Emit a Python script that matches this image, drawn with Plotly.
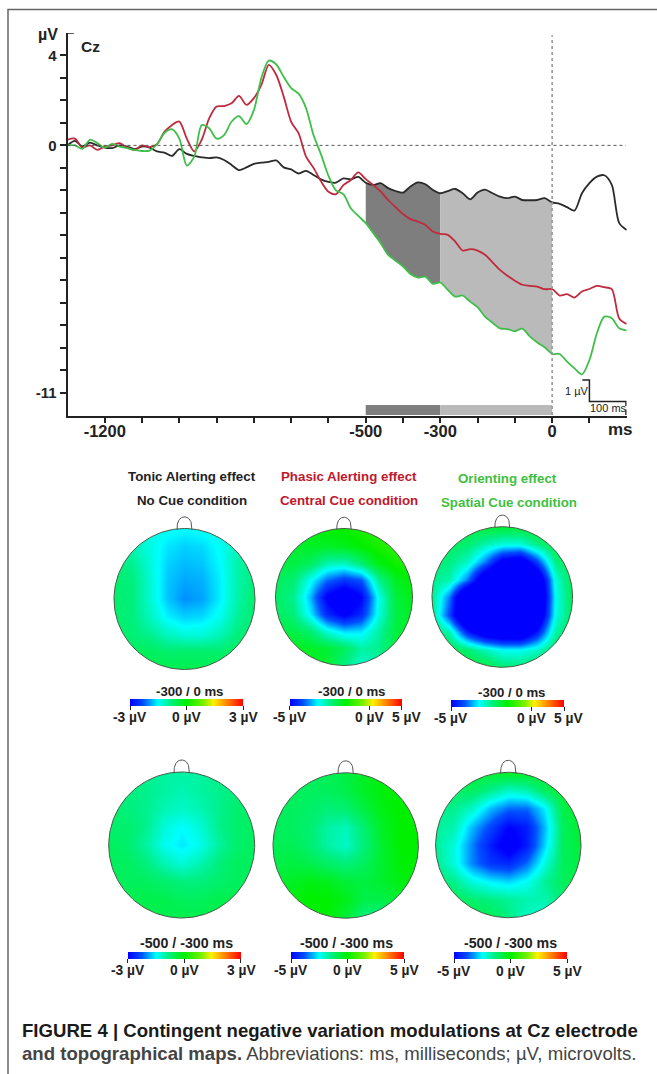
import plotly.graph_objects as go
import numpy as np

W, H = 657, 1074
INK = "#222222"
FONT = "Liberation Sans"

# ---- ERP data (ms, µV) ----
t_ms = list(range(-1300, 201, 20))
no_cue = [0, .2, -.05, .12, 0, -.1, -.12, 0, -.05, -.17, -.05, -.1, -.27, -.32, -.47, -.17, -.38, -.47, -.53, -.57,
          -.53, -.65, -.87, -1.1, -.98, -.82, -.77, -.73, -.67, -.98, -1.07, -1.25, -1.13, -1.32, -1.51, -1.62, -1.66, -1.47, -1.51, -1.4,
          -1.66, -1.76, -1.68, -1.9, -2.03, -2.1, -1.83, -1.65, -1.73, -1.98, -2.13, -2.03, -1.94, -2.13, -2.4, -2.1, -1.97, -2.13, -2.28, -2.35,
          -2.28, -2.43, -2.44, -2.43, -2.35, -2.54, -2.6, -2.75, -2.9, -2.13, -1.68, -1.39, -1.33, -1.76, -3.46, -3.76]
central_cue = [.25, .3, -.1, 0, -.2, -.05, 0, .1, -.1, -.2, 0, -.08, .05, .6, .9, 1.06, .3, -.27, .25, 1.2,
               1.73, 1.75, 1.87, 2.2, 1.8, 2.1, 2.69, 3.58, 3.13, 2.17, 1.05, .53, -.5, -1.0, -1.6, -2.06, -2.17, -1.77, -1.54, -1.2,
               -1.5, -1.76, -2.05, -2.43, -2.75, -3.05, -3.28, -3.39, -3.54, -3.83, -3.94, -3.98, -4.28, -4.68, -4.62, -4.68, -4.87, -5.2, -5.54, -5.8,
               -6.02, -6.2, -6.25, -6.28, -6.4, -6.39, -6.68, -6.62, -6.77, -6.5, -6.39, -6.25, -6.31, -6.4, -7.7, -7.95]
spatial_cue = [0, 0, -.15, .25, .1, -.1, .07, -.05, -.12, -.2, -.25, -.23, .05, .55, .72, .3, -.9, -.5, .9, .76,
               .3, .46, 1.05, 1.3, .95, 1.57, 3.0, 3.77, 3.6, 3.05, 2.55, 2.3, 1.65, .45, -.4, -1.35, -2.0, -2.17, -2.8, -3.14,
               -3.46, -3.9, -4.35, -4.87, -5.13, -5.39, -5.72, -5.88, -5.84, -6.16, -6.1, -6.43, -6.73, -6.68, -6.95, -7.2, -7.62, -7.89, -8.14, -8.17,
               -8.27, -8.15, -8.5, -8.77, -8.98, -9.28, -9.28, -9.62, -9.92, -10.19, -9.55, -8.36, -7.62, -7.69, -8.14, -8.24]

x_tick_vals = [-1200, -1100, -1000, -900, -800, -700, -600, -500, -400, -300, -200, -100, 0, 100]
x_tick_text = ["-1200", "", "", "", "", "", "", "-500", "", "-300", "", "", "0", ""]
y_tick_vals = [4, 3, 2, 1, 0, -1, -2, -3, -4, -5, -6, -7, -8, -9, -10, -11]
y_tick_text = ["4", "", "", "", "0", "", "", "", "", "", "", "", "", "", "", "-11"]

# ---- scalp maps: µV on a 9x9 grid, rows from front (top) to back ----
grid_pos = [-1, -.75, -.5, -.25, 0, .25, .5, .75, 1]
tonic_late = [
    [-1.2, -1.25, -1.35, -1.45, -1.5, -1.45, -1.35, -1.2, -1.0],
    [-1.0, -1.1, -1.35, -1.6, -1.7, -1.65, -1.45, -1.1, -.9],
    [-.8, -.9, -1.3, -1.7, -1.8, -1.75, -1.5, -1.05, -.8],
    [-.7, -.8, -1.25, -1.75, -1.9, -1.85, -1.55, -1.05, -.8],
    [-.7, -.8, -1.25, -1.75, -2.0, -1.9, -1.55, -1.05, -.7],
    [-.7, -.8, -1.15, -1.55, -1.7, -1.65, -1.4, -.95, -.7],
    [-.7, -.75, -.9, -1.15, -1.3, -1.3, -1.1, -.8, -.7],
    [-.6, -.6, -.6, -.7, -.7, -.7, -.7, -.6, -.6],
    [-.5, -.5, -.5, -.5, -.5, -.5, -.5, -.5, -.5]]
phasic_late = [
    [-.4, -.3, -.2, 0, .1, .3, .5, .6, .6],
    [-.6, -.5, -.4, -.4, -.3, 0, .3, .5, .6],
    [-.7, -.7, -1.0, -1.8, -1.9, -1.2, -.2, .2, .4],
    [-1.0, -1.2, -2.4, -3.6, -4.2, -3.8, -1.6, -.4, 0],
    [-1.1, -1.5, -3.0, -5.2, -6, -5, -2.4, -.7, -.2],
    [-1.0, -1.3, -2.6, -4.4, -5.2, -4.4, -2.3, -.8, -.3],
    [-.7, -.8, -1.2, -2.2, -2.8, -2.7, -1.7, -.7, -.3],
    [-.3, -.3, -.4, -.6, -1, -1.7, -1.5, -.8, -.5],
    [-.3, -.3, -.3, -.5, -1.4, -2.1, -1.8, -1, -.6]]
orienting_late = [
    [-.8, -.8, -.7, -.6, -.6, -.6, -.5, -.5, -.5],
    [-1, -1, -1.2, -1.8, -2.2, -2.2, -1.4, -.7, -.6],
    [-1.2, -1.4, -2, -3.5, -5.5, -6, -4, -1.4, -.8],
    [-1.5, -1.8, -3.5, -6.5, -8, -8, -6.5, -2.2, -.9],
    [-1.5, -3.5, -7.5, -8, -8, -8, -7, -2.4, -.9],
    [-1.5, -4, -7.5, -8, -8, -8, -6.5, -2.3, -1],
    [-1.1, -1.8, -4.5, -6, -6.5, -6.5, -4.6, -1.7, -.9],
    [-.7, -.8, -1.2, -1.9, -2.4, -2.4, -2, -1, -.7],
    [-.6, -.6, -.6, -.7, -1.2, -1.3, -.9, -.7, -.6]]
tonic_early = [
    [-.9, -.9, -.9, -1, -1, -1, -.9, -.8, -.8],
    [-.8, -.8, -.9, -1, -1.1, -1, -.9, -.8, -.7],
    [-.7, -.8, -.9, -1.1, -1.2, -1.1, -.9, -.7, -.7],
    [-.7, -.7, -.9, -1.3, -1.5, -1.3, -.9, -.7, -.6],
    [-.6, -.7, -1, -1.4, -1.6, -1.4, -1, -.7, -.6],
    [-.6, -.6, -.8, -1.1, -1.3, -1.1, -.8, -.6, -.6],
    [-.6, -.6, -.6, -.7, -.8, -.8, -.7, -.6, -.6],
    [-.5, -.5, -.5, -.5, -.6, -.6, -.5, -.5, -.5],
    [-.5, -.5, -.5, -.5, -.5, -.5, -.5, -.5, -.5]]
phasic_early = [
    [-1, -1, -1, -.9, -.7, -.4, -.2, 0, 0],
    [-1, -1, -1, -1, -.8, -.4, -.1, 0, 0],
    [-1, -1, -1.1, -1.3, -1.2, -.7, -.2, 0, 0],
    [-1, -1, -1.2, -1.7, -1.9, -1.2, -.4, 0, 0],
    [-.9, -.9, -1.2, -1.7, -2, -1.3, -.5, 0, 0],
    [-.8, -.7, -.8, -1.1, -1.3, -1, -.5, -.1, 0],
    [-.6, -.4, -.2, -.3, -.6, -.7, -.5, -.2, -.1],
    [-.4, -.2, 0, 0, -.3, -.8, -.8, -.5, -.3],
    [-.3, -.1, 0, -.1, -.6, -1.4, -1.4, -.8, -.5]]
orienting_early = [
    [-1, -.9, -.7, -.5, -.4, -.4, -.4, -.4, -.4],
    [-1.2, -1.1, -1, -1.5, -2, -1.8, -1, -.5, -.4],
    [-1.5, -1.5, -2, -3, -3.6, -3.6, -2.6, -.8, -.4],
    [-1.6, -1.8, -3, -4, -5, -4.6, -3, -1, -.5],
    [-1.6, -2.2, -3.4, -4.6, -5.5, -4.6, -2.8, -1, -.6],
    [-1.5, -2.2, -3.4, -4.2, -4.4, -3.6, -2.2, -1, -.7],
    [-1.2, -1.5, -2.2, -2.6, -2.8, -2.4, -1.6, -1, -.7],
    [-.9, -1, -1.2, -1.4, -1.6, -1.8, -1.8, -1.2, -.8],
    [-.8, -.8, -.8, -.9, -1.4, -2, -2.2, -1.5, -1]]

rainbow = [[0, "rgb(0,0,255)"], [.12, "rgb(0,80,255)"], [.25, "rgb(0,255,255)"], [.36, "rgb(0,240,130)"],
           [.5, "rgb(0,240,0)"], [.65, "rgb(120,240,0)"], [.74, "rgb(255,240,0)"], [.86, "rgb(255,130,0)"], [1, "rgb(255,0,0)"]]

# cx, cy, r, z, scale, bar left, bar right, bar top, zero tick position, bar title, title x, title y, title size, label y
maps = [
    (184.5, 599, 70.5, tonic_late, 3, 130, 243, 698.5, 0, "-300 / 0 ms", 189, 691, 13.2, 717),
    (344, 597, 68.5, phasic_late, 5, 289.7, 401.7, 698.5, 2.1, "-300 / 0 ms", 351, 691, 13.2, 717),
    (502.3, 597, 70.3, orienting_late, 5, 451, 563.7, 700, 2.1, "-300 / 0 ms", 511, 692, 13.2, 718),
    (181.7, 845, 73, tonic_early, 3, 127.7, 241, 952, 0, "-500 / -300 ms", 186, 943, 14.2, 970),
    (345.7, 845.5, 72.7, phasic_early, 5, 291, 404, 952, 0, "-500 / -300 ms", 346.7, 943, 14.2, 970),
    (508.3, 845, 72.7, orienting_early, 5, 454, 567, 952, 0, "-500 / -300 ms", 510, 943, 14.2, 971),
]

fig = go.Figure()


def sel(values, lo, hi):
    return [v for s, v in zip(t_ms, values) if lo <= s <= hi]


# shaded CNV windows
for lo, hi, col in [(-500, -300, "#7e7e7e"), (-300, 0, "#bababa")]:
    fig.add_trace(go.Scatter(x=sel(t_ms, lo, hi), y=sel(spatial_cue, lo, hi), mode="lines",
                             line=dict(width=0, shape="spline", smoothing=.8), showlegend=False))
    fig.add_trace(go.Scatter(x=sel(t_ms, lo, hi), y=sel(no_cue, lo, hi), mode="lines", fill="tonexty", fillcolor=col,
                             line=dict(width=0, shape="spline", smoothing=.8), showlegend=False))

for vals, col in [(no_cue, "#2a2a2a"), (central_cue, "#c02a3c"), (spatial_cue, "#3fbf4a")]:
    fig.add_trace(go.Scatter(x=t_ms, y=vals, mode="lines", showlegend=False,
                             line=dict(color=col, width=1.8, shape="spline", smoothing=.8)))

# calibration mark
fig.add_trace(go.Scatter(x=[81, 100, 100, 198, 198], y=[-10.44, -10.44, -11.4, -11.4, -11.6], mode="lines",
                         line=dict(color=INK, width=1.5), showlegend=False))
fig.add_trace(go.Scatter(x=[198, 198], y=[-11.75, -12], mode="lines", line=dict(color=INK, width=1.5), showlegend=False))
# axis top flag
fig.add_trace(go.Scatter(x=[-1300, -1283], y=[5, 5], mode="lines", line=dict(color=INK, width=1.5), showlegend=False))

layout = dict(
    width=W, height=H, paper_bgcolor="white", plot_bgcolor="rgba(0,0,0,0)",
    margin=dict(l=0, r=0, t=0, b=0, pad=0, autoexpand=False), showlegend=False,
    font=dict(family=FONT, color=INK),
    xaxis=dict(domain=[67.5 / W, 626.7 / W], range=[-1300, 200], showgrid=False, zeroline=False, showline=True,
               linecolor=INK, linewidth=2, ticks="outside", ticklen=5, tickwidth=1.5, tickcolor=INK,
               tickvals=x_tick_vals, ticktext=x_tick_text, tickangle=0, ticklabelstandoff=-6,
               tickfont=dict(family=FONT, size=16.5, weight=700, color=INK), anchor="y"),
    yaxis=dict(domain=[1 - 416 / H, 1 - 33 / H], range=[-12.04, 5], showgrid=False, zeroline=False, showline=True,
               linecolor=INK, linewidth=2, ticks="outside", ticklen=6, tickwidth=1.5, tickcolor=INK,
               tickvals=y_tick_vals, ticktext=y_tick_text,
               tickfont=dict(family=FONT, size=15, weight=700, color=INK), anchor="x"),
)

shapes = [
    dict(type="line", xref="x", yref="y", x0=-1300, x1=198, y0=0, y1=0, line=dict(color="#555555", width=1, dash="dot")),
    dict(type="line", xref="x", yref="y", x0=0, x1=0, y0=-12, y1=4.9, line=dict(color="#9a9a9a", width=1.6, dash="dot")),
    dict(type="rect", xref="x", yref="y", x0=-500, x1=-300, y0=-12, y1=-11.55, fillcolor="#7e7e7e", line=dict(width=0), layer="below"),
    dict(type="rect", xref="x", yref="y", x0=-300, x1=0, y0=-12, y1=-11.55, fillcolor="#bababa", line=dict(width=0), layer="below"),
    dict(type="path", xref="paper", yref="paper", path=f"M {8/W} 0 L {8/W} {1-9.5/H} L 1 {1-9.5/H}",
         line=dict(color="#666666", width=1.5)),
]


def note(text, x, y, size, color=INK, bold=True, align="center", anchor="center"):
    return dict(text=text, x=x / W, y=1 - y / H, xref="paper", yref="paper", showarrow=False, align=align,
                xanchor=anchor, yanchor="middle",
                font=dict(family=FONT, size=size, color=color, weight=700 if bold else 400))


annotations = [
    note("µV", 48, 34, 16), note("Cz", 90, 46, 15.5), note("ms", 620, 429, 17),
    note("1 µV", 577, 391, 11, bold=False), note("100 ms", 608, 408, 11, bold=False),
    note("Tonic Alerting effect", 192, 477, 13.3), note("No Cue condition", 192, 501, 13.3),
    note("Phasic Alerting effect", 349, 477, 13.3, "#c0182c"), note("Central Cue condition", 349, 501, 13.3, "#c0182c"),
    note("Orienting effect", 507, 478, 13.3, "#3fbf3f"), note("Spatial Cue condition", 508.5, 502, 13.3, "#3fbf3f"),
    note("FIGURE 4 | Contingent negative variation modulations at Cz electrode", 20, 1030, 18.6, "#1a1a1a", anchor="left"),
    note("<b>and topographical maps.</b> Abbreviations: ms, milliseconds; µV, microvolts.", 20, 1053, 18.6, "#444444",
         bold=False, anchor="left"),
]

theta = np.linspace(0, 2 * np.pi, 181)
nose_a = np.linspace(0, np.pi, 41)
EDGE = 1.22
PAD = 2.0

for i, (cx, cy, r, z, scale, bl, br, bt, zero_at, title, tx, ty, tsize, ly) in enumerate(maps):
    n = i + 2
    fig.add_trace(go.Heatmap(
        x=grid_pos, y=grid_pos[::-1], z=z, zmin=-scale, zmax=scale, zsmooth="best", colorscale=rainbow,
        xaxis=f"x{n}", yaxis=f"y{n}", hoverinfo="skip",
        colorbar=dict(orientation="h", x=bl / W, xanchor="left", y=1 - bt / H, yanchor="top", xref="paper", yref="paper",
                      len=br - bl, lenmode="pixels", thickness=6.5, thicknessmode="pixels", xpad=0, ypad=0,
                      outlinewidth=0, borderwidth=0, ticks="outside", ticklen=4, tickwidth=1.2, tickcolor=INK,
                      tickmode="array", tickvals=[-scale, zero_at, scale], ticktext=["", "", ""],
                      tickfont=dict(family=FONT, size=2, color=INK))))
    # white surround that cuts the square grid to the scalp disc
    mx = [-PAD, -PAD, PAD, PAD, -PAD, -PAD] + list(-np.cos(theta))
    my = [0, -PAD, -PAD, PAD, PAD, 0] + list(np.sin(theta))
    fig.add_trace(go.Scatter(x=mx, y=my, mode="lines", fill="toself", fillcolor="white", line=dict(width=0),
                             xaxis=f"x{n}", yaxis=f"y{n}", showlegend=False, hoverinfo="skip"))
    fig.add_trace(go.Scatter(x=np.cos(theta), y=np.sin(theta), mode="lines", line=dict(color="#4a5a4a", width=1),
                             xaxis=f"x{n}", yaxis=f"y{n}", showlegend=False, hoverinfo="skip"))
    fig.add_trace(go.Scatter(x=.105 * np.cos(nose_a), y=.985 + .18 * np.sin(nose_a) ** .7, mode="lines",
                             line=dict(color="#555555", width=1), xaxis=f"x{n}", yaxis=f"y{n}",
                             showlegend=False, hoverinfo="skip"))
    layout[f"xaxis{n}"] = dict(domain=[(cx - EDGE * r) / W, (cx + EDGE * r) / W], range=[-EDGE, EDGE], visible=False,
                               anchor=f"y{n}", fixedrange=True)
    layout[f"yaxis{n}"] = dict(domain=[1 - (cy + EDGE * r) / H, 1 - (cy - EDGE * r) / H], range=[-EDGE, EDGE], visible=False,
                               anchor=f"x{n}", fixedrange=True)
    annotations.append(note(title, tx, ty, tsize))
    zero_x = bl + (br - bl) * (zero_at + scale) / (2 * scale)
    annotations.append(note(f"-{scale} µV", bl, ly, 13.8))
    annotations.append(note("0 µV", zero_x, ly, 13.8))
    annotations.append(note(f"{scale} µV", br + 5 if zero_at else br, ly, 13.8))

layout["shapes"] = shapes
layout["annotations"] = annotations
fig.update_layout(**layout)
fig.write_html("out.html", config={"displayModeBar": False},
               post_script="document.body.style.margin='0';document.body.style.overflow='hidden';")
